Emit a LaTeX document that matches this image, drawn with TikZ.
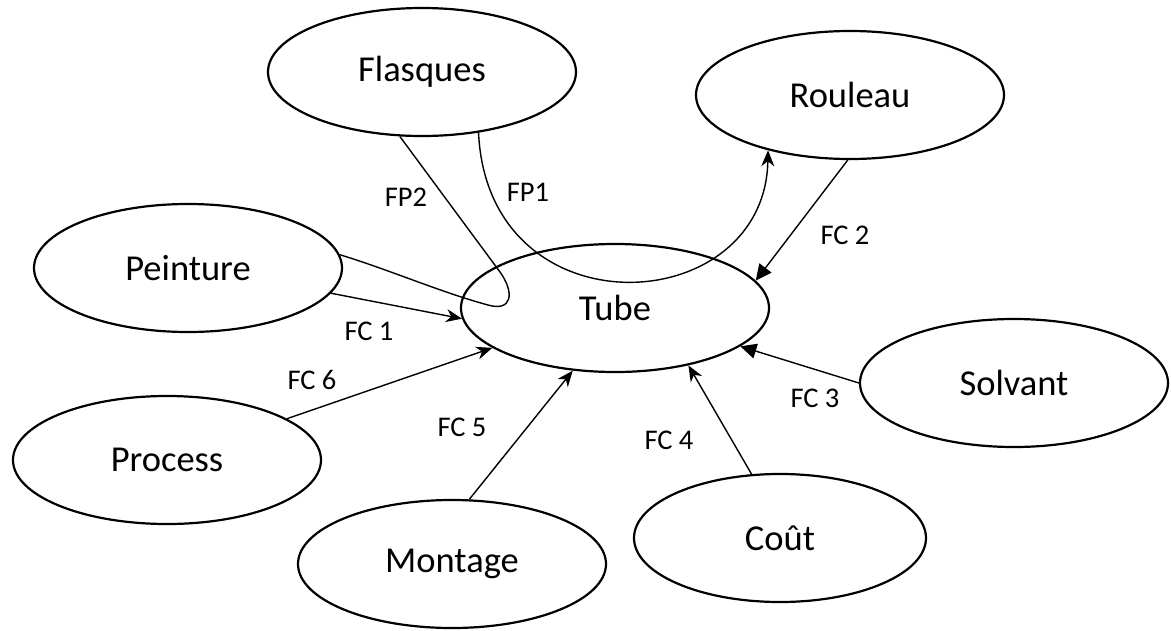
\documentclass[tikz,border=0pt]{standalone}
\usepackage{fontspec}
\setmainfont{Carlito}
\usetikzlibrary{shapes.geometric,arrows.meta}
\begin{document}
\begin{tikzpicture}[x=1pt,y=-1pt,
  ent/.style={ellipse,draw,line width=2.2pt,minimum width=308pt,minimum height=128pt,inner sep=0pt,font=\fontsize{36.5}{42}\selectfont},
  conn/.style={line width=1.4pt},
  lbl/.style={font=\fontsize{28.5}{33}\selectfont,inner sep=0pt},
  sarr/.style={-{Stealth[length=16pt,width=13pt,inset=5pt]}},
  tarr/.style={-{Triangle[length=16pt,width=15pt]}}]
\useasboundingbox (0,0) rectangle (1171,630);
% entities
\node[ent] (flasques) at (422,72) {Flasques};
\node[ent] (rouleau) at (850,95) {Rouleau};
\node[ent] (peinture) at (188,268) {Peinture};
\node[ent] (tube) at (615,308) {Tube};
\node[ent] (process) at (167,460) {Process};
\node[ent] (montage) at (452,564) {Montage};
\node[ent, minimum width=292pt] (cout) at (780,538) {Coût};
\node[ent] (solvant) at (1014,383) {Solvant};
% connectors
\draw[conn,sarr] (flasques.313) .. controls (488,335) and (765,320) .. (rouleau.214);
\draw[conn] (flasques.251) -- (500,272) .. controls (515,293) and (512,312) .. (488,305) .. controls (440,292) and (390,270) .. (peinture.5);
\draw[conn,sarr] (peinture.-10) -- (tube.184);
\draw[conn,tarr] (rouleau.268) -- (tube.11);
\draw[conn,tarr] (solvant.180) -- (tube.-17);
\draw[conn,sarr] (cout.114) -- (tube.-38);
\draw[conn,sarr] (montage.75) -- (tube.236);
\draw[conn,sarr] (process.19) -- (tube.198);
% labels
\node[lbl] (lfp2) at (406,197) {FP2};
\node[lbl] (lfp1) at (528,192) {FP1};
\node[lbl] (lfc2) at (845,235) {FC 2};
\node[lbl] (lfc1) at (369,331) {FC 1};
\node[lbl] (lfc6) at (312,380) {FC 6};
\node[lbl] (lfc5) at (462,427) {FC 5};
\node[lbl] (lfc3) at (815,398) {FC 3};
\node[lbl] (lfc4) at (669,440) {FC 4};
\end{tikzpicture}
\end{document}
